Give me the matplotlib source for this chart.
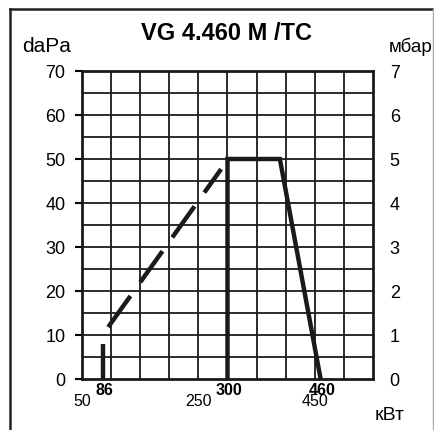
import matplotlib
matplotlib.use("Agg")
import matplotlib.pyplot as plt
from matplotlib.lines import Line2D

plt.rcParams['font.family'] = ['Liberation Sans', 'DejaVu Sans']

# Data
title = "VG 4.460 M /TC"
x_ticks = [50, 250, 450]
x_bold = [86, 300, 460]
y_ticks_dapa = [0, 10, 20, 30, 40, 50, 60, 70]
y_ticks_mbar = [0, 1, 2, 3, 4, 5, 6, 7]
# ignition/start segment
start_x = [86, 86]
start_y = [0, 8]
# dashed minimum-modulation line
dash_x = [95, 289]
dash_y = [11.8, 47.7]
# working field outline
field_x = [300, 300, 390, 460]
field_y = [0, 50, 50, 0]

W, H = 435, 430
fig = plt.figure(figsize=(W / 100, H / 100), dpi=100)

# figure border
fig.add_artist(Line2D([10 / W, 10 / W], [0, 1 - 9 / H], transform=fig.transFigure, color='#222222', lw=1.8))
fig.add_artist(Line2D([10 / W, 433 / W], [1 - 9 / H, 1 - 9 / H], transform=fig.transFigure, color='#222222', lw=1.8))
fig.add_artist(Line2D([433 / W, 433 / W], [0, 1 - 9 / H], transform=fig.transFigure, color='#aaaaaa', lw=1.0))

left, right, top, bottom = 82, 373, 71, 379
ax = fig.add_axes([left / W, (H - bottom) / H, (right - left) / W, (bottom - top) / H])
ax.set_xlim(50, 550)
ax.set_ylim(0, 70)

# grid
for gx in range(100, 550, 50):
    ax.axvline(gx, color='#1a1a1a', lw=1.3, zorder=1)
for gy in range(5, 70, 5):
    ax.axhline(gy, color='#1a1a1a', lw=1.3, zorder=1)
for s in ax.spines.values():
    s.set_linewidth(2.0)
    s.set_color('#1a1a1a')

ax.set_yticks(y_ticks_dapa)
ax.set_yticklabels([str(v) for v in y_ticks_dapa], fontsize=13)
ax.tick_params(axis='y', direction='out', length=5, width=1.5, pad=7)
ax.set_xticks([])

# data lines
ax.plot(start_x, start_y, color='#1a1a1a', lw=3.2, solid_capstyle='butt', zorder=3)
ax.plot(dash_x, dash_y, color='#1a1a1a', lw=3.2, dashes=(8.6, 3.8), dash_capstyle='butt', zorder=3)
ax.plot(field_x, field_y, color='#1a1a1a', lw=3.2, solid_joinstyle='miter', zorder=3)

# x labels
for v in x_ticks:
    ax.text(v + 1, -3.4, str(v), ha='center', va='top', fontsize=11.5)
for v in x_bold:
    ax.text(v + 2, -0.9, str(v), ha='center', va='top', fontsize=11.5, fontweight='bold')

ax2 = ax.twinx()
ax2.set_ylim(0, 7)
ax2.set_yticks(y_ticks_mbar)
ax2.set_yticklabels([str(v) for v in y_ticks_mbar], fontsize=13)
ax2.tick_params(axis='y', length=0, pad=12)
for s in ax2.spines.values():
    s.set_visible(False)

fig.text(227 / W, 1 - 33 / H, title, ha='center', va='center', fontsize=17, fontweight='bold')
fig.text(47 / W, 1 - 47 / H, "daPa", ha='center', va='center', fontsize=15)
fig.text(411 / W, 1 - 47 / H, "мбар", ha='center', va='center', fontsize=13.5)
fig.text(390 / W, 1 - 415 / H, "кВт", ha='center', va='center', fontsize=14)

fig.savefig("out.png", dpi=100)
